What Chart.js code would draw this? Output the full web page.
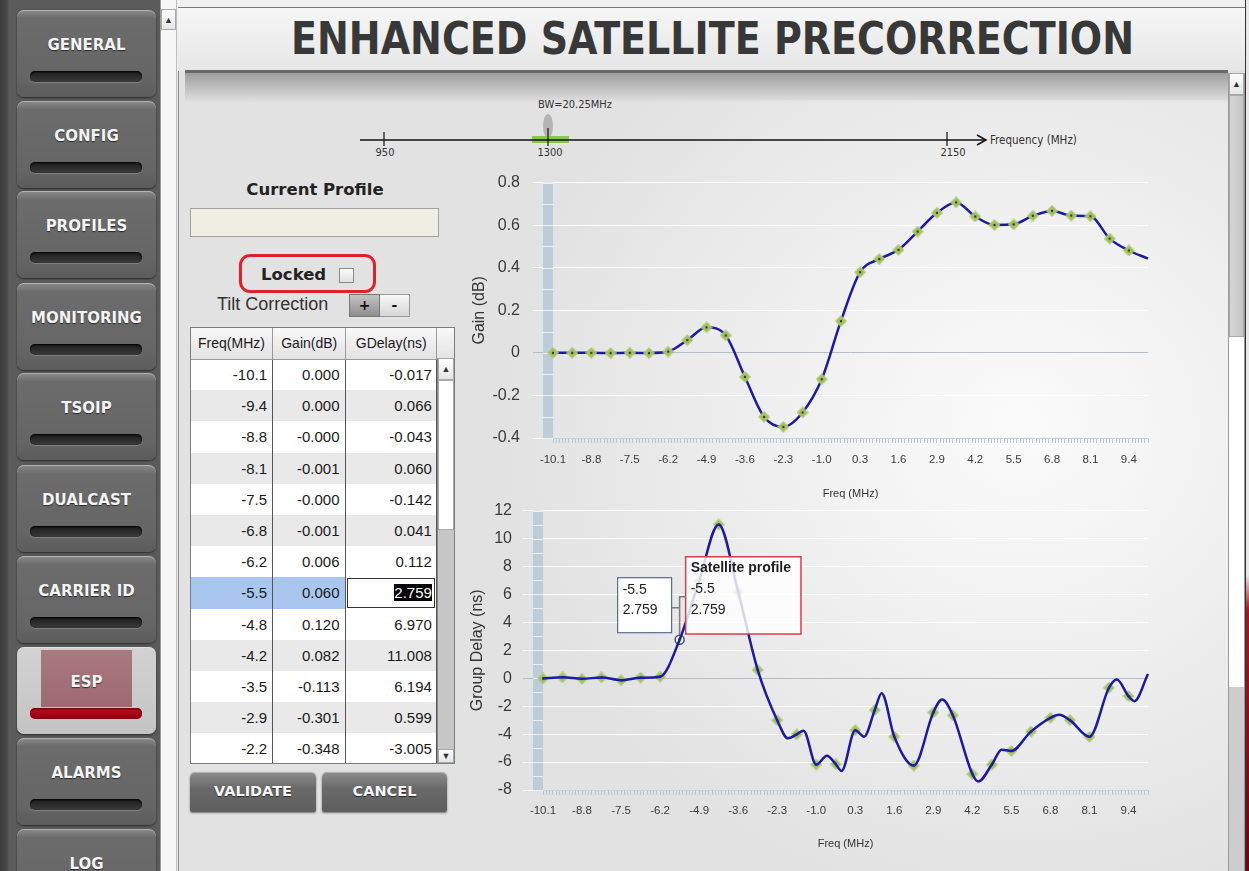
<!DOCTYPE html>
<html><head><meta charset="utf-8">
<script src="https://cdn.jsdelivr.net/npm/chart.js@4.4.1/dist/chart.umd.min.js"></script>
<style>
*{box-sizing:border-box}
html,body{margin:0;padding:0}
body{width:1249px;height:871px;overflow:hidden;position:relative;background:#f0f0f0;font-family:"Liberation Sans",Arial,sans-serif}
.a{position:absolute}
#side{left:0;top:0;width:160px;height:871px;background:linear-gradient(90deg,#3c3c3c 0,#4a4a4a 7px,#5b5b5b 9px,#5b5b5b 100%)}
.btn{position:absolute;left:17px;width:139px;height:87px;border-radius:7px;background:linear-gradient(#8a8a8a,#6c6c6c 10%,#656565 80%,#5c5c5c);box-shadow:0 1px 2px rgba(0,0,0,.55),inset 0 1px 0 rgba(255,255,255,.35)}
.btn span{position:absolute;left:0;right:0;top:26px;text-align:center;color:#f4f4f4;font:bold 15px "DejaVu Sans",sans-serif;text-shadow:0 1px 1px rgba(0,0,0,.6)}
.btn i{position:absolute;left:13px;width:112px;top:61px;height:11px;border-radius:5px;background:linear-gradient(#1c1c1c,#3a3a3a);box-shadow:inset 0 1px 2px #000,0 1px 0 rgba(255,255,255,.18)}
.btn.sel{background:linear-gradient(#d2d2d2,#c4c4c4)}
.btn.sel b{position:absolute;left:24px;width:91px;top:3px;height:57px;background:linear-gradient(#a97a80,#9c6a70)}
.btn.sel i{background:linear-gradient(#c0101c,#8c0010);box-shadow:inset 0 1px 2px #500}
#sscroll{left:160px;top:0;width:17px;height:871px;background:#f6f6f6;border-left:1px solid #9a9a9a;border-right:1px solid #bcbcbc}
.arr{position:absolute;font-size:9px;color:#333;text-align:center;line-height:20px;background:linear-gradient(#fdfdfd,#e6e6e6);border:1px solid #a8a8a8}
#main{left:178px;top:7px;width:1071px;height:864px;background:#e2e2e2;border-top:1px solid #7a7a7a;border-left:1px solid #8a8a8a}
#hdr{left:178px;top:8px;width:1071px;height:63px;background:linear-gradient(#f6f6f6,#e6e6e6)}
#title{left:291px;top:17px;font:bold 44px "DejaVu Sans Condensed","DejaVu Sans",sans-serif;font-stretch:condensed;line-height:44px;color:#383838;white-space:nowrap;transform-origin:0 0}
#divider{left:185px;top:70px;width:1043px;height:3px;background:#6a6a6a}
#shadow{left:185px;top:73px;width:1043px;height:30px;background:linear-gradient(rgba(0,0,0,.30),rgba(0,0,0,0))}
#chartbg{left:460px;top:100px;width:768px;height:771px;background:radial-gradient(ellipse 520px 480px at 560px 330px,#fbfbfb 0%,#f0f0f0 45%,#e2e2e2 100%)}
#mscroll{left:1228px;top:73px;width:17px;height:798px;background:#fff;border-left:1px solid #9a9a9a;border-right:1px solid #9a9a9a}
#redstrip{left:1245px;top:0;width:4px;height:871px;background:linear-gradient(#e8e8e8 0,#e8e8e8 66%,#b01020 70%,#700010 100%);border-left:1px solid #333}
.lbl{position:absolute;white-space:nowrap}
#curp{left:190px;top:180px;width:250px;text-align:center;font:bold 16.5px "DejaVu Sans",sans-serif;color:#222}
#curbox{left:190px;top:208px;width:249px;height:29px;background:#efeee2;border:1px solid #a2a2a2}
#lockring{left:239px;top:254px;width:137px;height:39px;border:3px solid #e2202c;border-radius:11px}
#locked{left:261px;top:265px;font:bold 16.5px "DejaVu Sans",sans-serif;color:#222}
#chk{left:339px;top:268px;width:15px;height:15px;border:1px solid #8a8a8a;background:linear-gradient(#fdfdfd,#e0e0e0)}
#tilt{left:217px;top:294px;font:18px "Liberation Sans",Arial,sans-serif;color:#333}
.tb{position:absolute;top:294px;height:23px;font:bold 14px "DejaVu Sans",sans-serif;text-align:center;line-height:21px;color:#111}
#tbl{left:190px;top:327px;width:265px;height:437px;border:1px solid #7c7c7c;background:#fff;overflow:hidden}
table{border-collapse:collapse;table-layout:fixed;font-family:"Liberation Sans",Arial,sans-serif;color:#1a1a1a}
th{height:31px;font-weight:normal;font-size:14px;background:linear-gradient(#f8f8f8,#e2e2e2);border-right:1px solid #9a9a9a;border-bottom:1px solid #9a9a9a;padding:0}
td{height:31.2px;font-size:15px;text-align:right;border-right:1px solid #555;padding:0 5px 0 0}
tr.ev td{background:#e9e9e9}
tr.sl td{background:#a9c7ee}
tr.sl td.ed{background:#fff;outline:1px solid #333;outline-offset:-2px}
td.ed span{background:#000;color:#fff}
#tscroll{left:437px;top:358px;width:17px;height:405px;background:#c6c6c6;border-left:1px solid #888}
.vbtn{position:absolute;top:772px;height:40px;border-radius:5px 5px 2px 2px;background:linear-gradient(#8e8e8e,#6a6a6a 40%,#5e5e5e);box-shadow:0 1px 2px rgba(0,0,0,.5),inset 0 1px 0 rgba(255,255,255,.35);color:#f6f6f6;font:bold 14.5px "DejaVu Sans",sans-serif;text-align:center;line-height:38px;text-shadow:0 1px 1px rgba(0,0,0,.6)}
canvas{position:absolute}
</style></head>
<body>
<div id="side" class="a"></div>
<div id="sscroll" class="a"><div class="arr" style="left:0;top:9px;width:15px;height:21px">&#9650;</div></div>
<div id="main" class="a"></div>
<div id="hdr" class="a"></div>
<div id="title" class="a">ENHANCED SATELLITE PRECORRECTION</div>
<div id="chartbg" class="a"></div>
<div id="divider" class="a"></div>
<div id="shadow" class="a"></div>
<div id="mscroll" class="a">
  <div class="arr" style="left:0;top:0;width:15px;height:22px">&#9650;</div>
  <div class="a" style="left:0;top:22px;width:15px;height:242px;background:linear-gradient(90deg,#d4d4d4,#c6c6c6);border:1px solid #a8a8a8"></div>
  <div class="a" style="left:0;top:614px;width:15px;height:184px;background:#cdcdcd"></div>
</div>
<div id="redstrip" class="a"></div>

<svg class="a" style="left:340px;top:95px" width="780" height="70">
  <text x="198" y="13" font-family="DejaVu Sans Condensed, DejaVu Sans" font-size="11" fill="#333">BW=20.25MHz</text>
  <ellipse cx="208" cy="31" rx="5" ry="12" fill="#b4b4b4"/>
  <rect x="192" y="41" width="37" height="7" fill="#86c84a"/>
  <line x1="20" y1="45" x2="645" y2="45" stroke="#111" stroke-width="1.5"/>
  <polyline points="637,40 646,45 637,50" fill="none" stroke="#111" stroke-width="1.5"/>
  <line x1="44" y1="37" x2="44" y2="51" stroke="#111" stroke-width="1.2"/>
  <line x1="208" y1="33" x2="208" y2="51" stroke="#111" stroke-width="1.2"/>
  <line x1="607" y1="37" x2="607" y2="51" stroke="#111" stroke-width="1.2"/>
  <g font-family="DejaVu Sans Condensed, DejaVu Sans" font-size="11" fill="#333" text-anchor="middle">
    <text x="45" y="61">950</text><text x="210" y="61">1300</text><text x="613" y="61">2150</text>
  </g>
  <text x="650" y="49" font-family="DejaVu Sans Condensed, DejaVu Sans" font-size="11.5" fill="#333">Frequency (MHz)</text>
</svg>

<div id="curp" class="lbl">Current Profile</div>
<div id="curbox" class="a"></div>
<div id="lockring" class="a"></div>
<div id="locked" class="lbl">Locked</div>
<div id="chk" class="a"></div>
<div id="tilt" class="lbl">Tilt Correction</div>
<div class="tb" style="left:349px;width:31px;background:linear-gradient(#c4c4c4,#8e8e8e);border:1px solid #777">+</div>
<div class="tb" style="left:380px;width:30px;background:linear-gradient(#f8f8f8,#d6d6d6);border:1px solid #999;border-left:none">-</div>
<div id="tbl" class="a"><table id="t"></table></div>
<div id="tscroll" class="a">
  <div class="arr" style="left:0;top:0;width:16px;height:22px">&#9650;</div>
  <div class="a" style="left:0;top:22px;width:16px;height:150px;background:#fff;border:1px solid #aaa"></div>
  <div class="arr" style="left:0;top:391px;width:16px;height:14px;line-height:13px">&#9660;</div>
</div>
<div class="vbtn" style="left:190px;width:126px">VALIDATE</div>
<div class="vbtn" style="left:322px;width:125px">CANCEL</div>

<canvas id="gain" width="700" height="343" style="left:465px;top:160px"></canvas>
<canvas id="gd" width="700" height="363" style="left:465px;top:490px"></canvas>

<script>
// ---------------- data ----------------
const menuItems = ['GENERAL','CONFIG','PROFILES','MONITORING','TSOIP','DUALCAST','CARRIER ID','ESP','ALARMS','LOG'];
const menuSelected = 'ESP';

const tableFreq = ['-10.1','-9.4','-8.8','-8.1','-7.5','-6.8','-6.2','-5.5','-4.8','-4.2','-3.5','-2.9','-2.2'];
const tableGain = ['0.000','0.000','-0.000','-0.001','-0.000','-0.001','0.006','0.060','0.120','0.082','-0.113','-0.301','-0.348'];
const tableGDelay = ['-0.017','0.066','-0.043','0.060','-0.142','0.041','0.112','2.759','6.970','11.008','6.194','0.599','-3.005'];
const selectedRow = 7;

// frequency offsets of the 32 profile points (MHz), BW = 20.25 MHz
const freqMHz = [-10.125,-9.472,-8.819,-8.165,-7.512,-6.859,-6.206,-5.552,-4.899,-4.246,-3.593,-2.940,-2.286,-1.633,-0.980,-0.327,
                 0.327,0.980,1.633,2.286,2.940,3.593,4.246,4.899,5.552,6.206,6.859,7.512,8.165,8.819,9.472,10.125];
// gain (dB) – last value is the end of the drawn curve (no marker)
const gainDb = [0.000,0.000,0.000,-0.001,0.000,-0.001,0.006,0.060,0.120,0.082,-0.113,-0.301,-0.348,-0.280,-0.124,0.149,
                0.379,0.441,0.484,0.570,0.658,0.707,0.641,0.601,0.604,0.644,0.667,0.645,0.642,0.537,0.481,0.443];
// group delay markers (ns)
const gdMarkerNs = [-0.017,0.066,-0.043,0.060,-0.142,0.041,0.112,2.759,6.970,11.008,6.194,0.599,-3.005,-4.02,-6.18,-6.15,
                    -3.72,-2.27,-4.18,-6.25,-2.45,-2.65,-6.86,-6.18,-5.20,-3.82,-2.83,-3.00,-4.19,-0.68,-1.28];
// group delay response curve, sampled at point-step positions (ns)
const gdCurveStep = [0,1,2,3,4,5,6,7,8,9,10,11,12,12.55,13,13.35,14,14.55,15,15.3,16,16.45,17,17.35,18,19,20,20.45,
                     21,22,22.3,23,23.5,24,25,26,26.45,27,28,29,29.4,30,30.3,31];
const gdCurveNs = [-0.017,0.066,-0.043,0.060,-0.142,0.041,0.112,2.759,6.970,11.008,6.194,0.599,-3.005,-4.30,-4.02,-3.75,
                   -6.18,-5.55,-6.15,-6.64,-3.72,-4.18,-2.27,-1.07,-4.18,-6.25,-2.45,-1.52,-2.65,-6.86,-7.39,-6.18,-5.11,
                   -5.20,-3.82,-2.83,-2.61,-3.00,-4.19,-0.68,-0.09,-1.28,-1.64,0.30];

const xTickLabels = ['-10.1','-8.8','-7.5','-6.2','-4.9','-3.6','-2.3','-1.0','0.3','1.6','2.9','4.2','5.5','6.8','8.1','9.4'];
const gainTickLabels = ['-0.4','-0.2','0','0.2','0.4','0.6','0.8'];
const gdTickLabels = ['-8','-6','-4','-2','0','2','4','6','8','10','12'];
const tooltipTitle = 'Satellite profile';
const highlightIndex = 7;

// ---------------- page widgets ----------------
const tops = [10,101,191,283,373,465,556,647,738,829];
const side = document.getElementById('side');
menuItems.forEach((m,i)=>{
  const d=document.createElement('div');
  d.className='btn'+(m===menuSelected?' sel':'');
  d.style.top=tops[i]+'px';
  d.innerHTML=(m===menuSelected?'<b></b>':'')+'<span>'+m+'</span><i></i>';
  side.appendChild(d);
});
const t=document.getElementById('t');
let h='<colgroup><col style="width:82px"><col style="width:74px"><col style="width:91px"><col style="width:18px"></colgroup>';
h+='<tr><th>Freq(MHz)</th><th>Gain(dB)</th><th>GDelay(ns)</th><th style="border-right:none"></th></tr>';
tableFreq.forEach((f,i)=>{
  const cls = i===selectedRow ? 'sl' : (i%2 ? 'ev' : '');
  const gd = i===selectedRow ? '<span>'+tableGDelay[i]+'</span>' : tableGDelay[i];
  h+='<tr class="'+cls+'"><td>'+f+'</td><td style="padding-right:6px">'+tableGain[i]+'</td><td class="'+(i===selectedRow?'ed':'')+'" style="padding-right:4px">'+gd+'</td><td style="border:none;background:none"></td></tr>';
});
t.innerHTML=h;
const title=document.getElementById('title');
title.style.transform='scaleX('+(843/title.getBoundingClientRect().width)+')';

// ---------------- charts ----------------
Chart.defaults.font.family='"Liberation Sans", Arial, sans-serif';
Chart.defaults.color='#333';
const X_MIN=freqMHz[0], X_MAX=freqMHz[freqMHz.length-1];
const STEP=(X_MAX-X_MIN)/(freqMHz.length-1);

function makeMarker(){
  const c=document.createElement('canvas'); c.width=12; c.height=12;
  const g=c.getContext('2d');
  g.beginPath(); g.moveTo(6,0.5); g.lineTo(11.5,6); g.lineTo(6,11.5); g.lineTo(0.5,6); g.closePath();
  g.fillStyle='#a5c262'; g.fill(); g.lineWidth=1; g.strokeStyle='rgba(178,205,118,0.95)'; g.stroke();
  g.beginPath(); g.arc(6,6,1.2,0,Math.PI*2); g.fillStyle='#2e3b1b'; g.fill();
  return c;
}
const marker=makeMarker();

function rulerTicks(scale){
  const ticks=[]; const sub=6;
  for(let i=0;i<=(freqMHz.length-1)*sub;i++){
    const li = i%(2*sub)===0 ? i/(2*sub) : -1;
    ticks.push({value:X_MIN+i*STEP/sub, lbl: (li>=0 && li<xTickLabels.length) ? xTickLabels[li] : ''});
  }
  scale.ticks=ticks;
}
function yTicksFrom(labels){
  return function(scale){ scale.ticks = labels.map(l=>({value:parseFloat(l), lbl:l})); };
}
const bandPlugin={
  id:'band',
  beforeDatasetsDraw(chart,args,opts){
    const {ctx,chartArea:{left,top,bottom}}=chart; const ys=chart.scales.y;
    ctx.save();
    ctx.fillStyle='#bdccd9'; ctx.fillRect(left-10,top,10,bottom-top);
    ctx.strokeStyle='#eef2f6'; ctx.lineWidth=1;
    const n=Math.round((ys.max-ys.min)/opts.step);
    for(let i=0;i<=n;i++){
      const py=Math.round(ys.getPixelForValue(ys.min+i*opts.step))+0.5;
      ctx.beginPath(); ctx.moveTo(left-10,py); ctx.lineTo(left,py); ctx.stroke();
    }
    ctx.restore();
  }
};
function xScale(tickPad,titlePadTop){
  return {
    type:'linear', min:X_MIN, max:X_MAX, offset:false,
    afterBuildTicks:rulerTicks,
    grid:{drawOnChartArea:false,drawTicks:true,tickLength:5,color:'#b4c6d7',lineWidth:1},
    border:{display:true,color:'#c3d2de'},
    ticks:{autoSkip:false,maxRotation:0,minRotation:0,padding:tickPad,color:'#3a3a3a',font:{size:11.5},
           callback:(v,i,ticks)=>ticks[i].lbl},
    title:{display:true,text:'Freq (MHz)',color:'#333',font:{size:11},padding:{top:titlePadTop,bottom:2}}
  };
}
function yScale(min,max,labels,width,titleText,labelPad,titlePad){
  return {
    type:'linear', min:min, max:max,
    afterBuildTicks:yTicksFrom(labels),
    afterFit:(s)=>{s.width=width;},
    grid:{drawTicks:true,tickLength:20,lineWidth:1,color:(c)=>c.tick && c.tick.value===0 ? '#b3bec8' : 'rgba(255,255,255,0.95)'},
    border:{display:false},
    ticks:{padding:labelPad,color:'#3a3a3a',font:{size:16},callback:(v,i,ticks)=>ticks[i].lbl},
    title:{display:true,text:titleText,color:'#333',font:{size:16},padding:{top:titlePad,bottom:0}}
  };
}

new Chart(document.getElementById('gain'),{
  type:'line',
  data:{datasets:[{
    label:'Gain',
    data:freqMHz.map((f,i)=>({x:f,y:gainDb[i]})),
    borderColor:'#1b1ba5',borderWidth:2.5,cubicInterpolationMode:'monotone',clip:false,
    pointStyle:marker, pointRadius:(c)=>c.dataIndex<freqMHz.length-1?6:0
  }]},
  options:{
    responsive:false,animation:false,events:[],
    layout:{padding:{top:17,right:17,left:0,bottom:0}},
    scales:{x:xScale(10,11),y:yScale(-0.4,0.8,gainTickLabels,88,'Gain (dB)',13,5)},
    plugins:{legend:{display:false},tooltip:{enabled:false},band:{step:0.1}}
  },
  plugins:[bandPlugin]
});

Chart.Tooltip.positioners.satFixed=function(items){
  if(!items.length) return false;
  const el=items[0].element;
  return {x:el.x+6,y:el.y-83,xAlign:'left',yAlign:'top'};
};
const calloutPlugin={
  id:'callout',
  afterDraw(chart){
    const el=chart.getDatasetMeta(1).data[highlightIndex]; if(!el) return;
    const {ctx}=chart; const x=el.x, y=el.y;
    ctx.save();
    ctx.strokeStyle='#7c7c7c'; ctx.lineWidth=1.5;
    ctx.beginPath(); ctx.moveTo(x,y-5); ctx.lineTo(x,y-43); ctx.lineTo(x+6,y-43);
    ctx.moveTo(x,y-32); ctx.lineTo(x-8,y-32); ctx.stroke();
    ctx.fillStyle='#fff'; ctx.fillRect(x-62,y-62,54,55);
    ctx.strokeStyle='#5d6a88'; ctx.lineWidth=1.2; ctx.strokeRect(x-62,y-62,54,55);
    ctx.fillStyle='#1e1e1e'; ctx.font='14px "Liberation Sans", Arial'; ctx.textBaseline='middle';
    ctx.fillText(tableFreq[highlightIndex],x-57,y-50);
    ctx.fillText(gdMarkerNs[highlightIndex].toFixed(3),x-57,y-30);
    ctx.beginPath(); ctx.arc(x,y,1.6,0,Math.PI*2); ctx.fillStyle='#1c2a6a'; ctx.fill();
    ctx.restore();
  }
};
const gd=new Chart(document.getElementById('gd'),{
  type:'line',
  data:{datasets:[
    {label:'curve',data:gdCurveStep.map((s,i)=>({x:X_MIN+s*STEP,y:gdCurveNs[i]})),
     borderColor:'#1b1ba5',borderWidth:2.5,cubicInterpolationMode:'monotone',pointRadius:0,clip:false},
    {label:'Satellite profile',data:gdMarkerNs.map((v,i)=>({x:freqMHz[i],y:v})),showLine:false,clip:false,
     pointStyle:(c)=>c.dataIndex===highlightIndex?'circle':marker,
     pointRadius:(c)=>c.dataIndex===highlightIndex?4.5:6,
     pointBackgroundColor:'#ffffff',pointBorderColor:'#34508e',pointBorderWidth:1.5}
  ]},
  options:{
    responsive:false,animation:false,events:[],
    layout:{padding:{top:13,right:17,left:0,bottom:0}},
    scales:{x:xScale(9,11),y:yScale(-8,12,gdTickLabels,78,'Group Delay (ns)',11,3)},
    plugins:{legend:{display:false},band:{step:1},
      tooltip:{enabled:true,position:'satFixed',
        backgroundColor:'rgba(255,255,255,0.82)',borderColor:'#d3404c',borderWidth:1.5,
        titleColor:'#1e1e1e',bodyColor:'#1e1e1e',
        titleFont:{size:14,weight:'bold',lineHeight:1.2},bodyFont:{size:14,lineHeight:1.2},
        titleMarginBottom:4,bodySpacing:4,padding:{top:3,bottom:16,left:5,right:10},
        caretSize:0,caretPadding:0,cornerRadius:0,displayColors:false,
        filter:(it)=>it.datasetIndex===1,
        callbacks:{title:()=>tooltipTitle,label:(it)=>[tableFreq[it.dataIndex],gdMarkerNs[it.dataIndex].toFixed(3)]}}
    }
  },
  plugins:[bandPlugin,calloutPlugin]
});
gd.tooltip.setActiveElements([{datasetIndex:1,index:highlightIndex}],{x:0,y:0});
gd.update();
</script>
</body></html>
